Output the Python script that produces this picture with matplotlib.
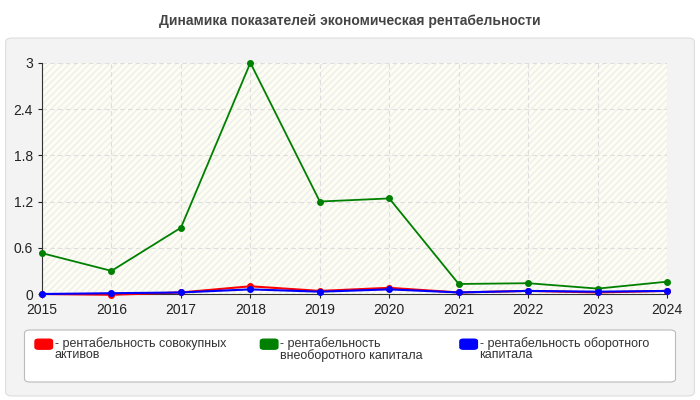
import matplotlib
matplotlib.use("Agg")
import matplotlib.pyplot as plt
from matplotlib.patches import FancyBboxPatch, Rectangle

plt.rcParams['font.family'] = ['Liberation Sans', 'DejaVu Sans']

years = [2015, 2016, 2017, 2018, 2019, 2020, 2021, 2022, 2023, 2024]
red = [0.0, -0.01, 0.02, 0.10, 0.04, 0.08, 0.02, 0.04, 0.02, 0.04]
green = [0.53, 0.30, 0.86, 3.0, 1.2, 1.24, 0.13, 0.14, 0.07, 0.16]
blue = [0.0, 0.01, 0.02, 0.06, 0.03, 0.06, 0.02, 0.04, 0.03, 0.04]
labels = ["- рентабельность совокупных\nактивов", "- рентабельность\nвнеоборотного капитала", "- рентабельность оборотного\nкапитала"]
title = "Динамика показателей экономическая рентабельности"

fig = plt.figure(figsize=(7, 4), dpi=100)
fig.patch.set_facecolor("white")
bg = FancyBboxPatch((0.008, 0.01), 0.984, 0.895, boxstyle="round,pad=0,rounding_size=0.01",
                    transform=fig.transFigure, facecolor="#f3f3f3", edgecolor="#dddddd", lw=0.8, zorder=-5)
fig.patches.append(bg)
fig.text(0.5, 0.948, title, ha="center", va="center", fontsize=10, fontweight="bold", color="#444444")

ax = fig.add_axes([0.06, 0.265, 0.893, 0.578], zorder=2)
ax.set_facecolor("#fdfdf2")
ax.add_patch(Rectangle((0, 0), 1, 1, transform=ax.transAxes, facecolor="none", hatch="/////", edgecolor="#eeeeee", lw=0, zorder=0))
for s, c in [(red, "red"), (green, "green"), (blue, "blue")]:
    ax.plot(years, s, color=c, lw=1.5 if c != "green" else 1.3, marker="o", ms=4, zorder=3, clip_on=False)
ax.set_xlim(2015, 2024)
ax.set_ylim(0, 3)
ax.set_xticks(years)
ax.set_yticks([0, 0.6, 1.2, 1.8, 2.4, 3])
ax.set_yticklabels(["0", "0.6", "1.2", "1.8", "2.4", "3"])
ax.grid(True, color="#dddddd", ls=(0, (4, 3)), lw=0.8)
ax.set_axisbelow(True)
for sp in ["top", "right"]:
    ax.spines[sp].set_visible(False)
ax.spines["left"].set_color("#333333")
ax.spines["bottom"].set_color("#333333")
ax.tick_params(labelsize=10, length=3, colors="#222222")

fig.patches.append(FancyBboxPatch((0.035, 0.045), 0.93, 0.13, boxstyle="round,pad=0,rounding_size=0.008",
                                  transform=fig.transFigure, facecolor="white", edgecolor="#bbbbbb", lw=0.8))
xs = [0.05, 0.372, 0.657]
for x, c, l in zip(xs, ["red", "green", "blue"], labels):
    fig.patches.append(FancyBboxPatch((x, 0.127), 0.025, 0.025, boxstyle="round,pad=0,rounding_size=0.005",
                                      transform=fig.transFigure, facecolor=c, edgecolor=c))
    fig.text(x + 0.028, 0.158, l, ha="left", va="top", fontsize=9, color="#333333", linespacing=0.95)

fig.savefig("out.png", dpi=100)
